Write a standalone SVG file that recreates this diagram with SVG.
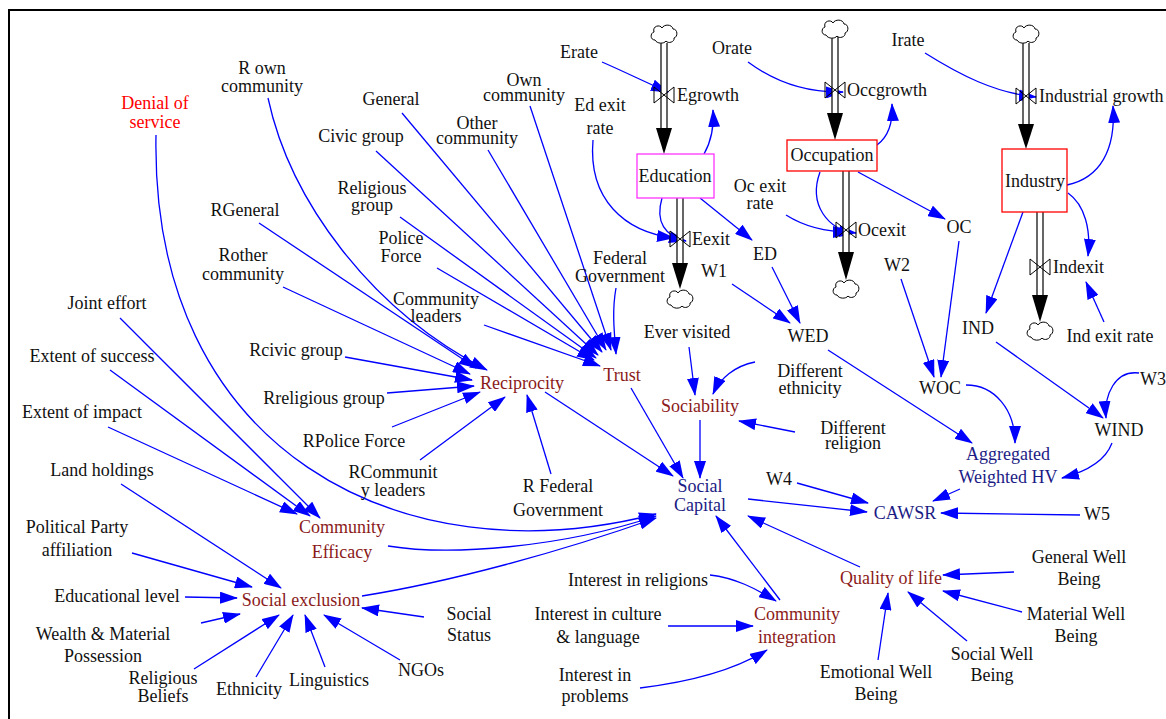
<svg xmlns="http://www.w3.org/2000/svg" width="1166" height="719" viewBox="0 0 1166 719">
<defs>
<marker id="ah" markerUnits="userSpaceOnUse" markerWidth="18" markerHeight="12" refX="17" refY="6" orient="auto"><path d="M0,0 L18,6 L0,12 Z" fill="#0000ff"/></marker>
<path id="cloud" d="M-9,6 C-14,6 -14,-1 -10,-2 C-12,-8 -4,-10 -2,-6 C0,-10 8,-10 9,-5 C14,-5 14,3 10,4 C11,8 4,10 2,7 C0,10 -7,10 -9,6 Z" fill="#fff" stroke="#000" stroke-width="1"/>
</defs>
<style>
text{font-family:"Liberation Serif","Times New Roman",serif;font-size:18px;text-anchor:middle;fill:#111}
.dr{fill:#8b1a1a}
.nv{fill:#1c1c85}
.rd{fill:#ff0000}
.st{text-anchor:start}
.c{fill:none;stroke:#0000ff;stroke-width:1.3;marker-end:url(#ah)}
.pl{stroke:#000;stroke-width:1.2}
.pf{fill:#fff;stroke:none}
.va{fill:none;stroke:#000;stroke-width:1}
.ar{fill:#000}
</style>
<rect width="1166" height="719" fill="#fff"/>
<path d="M9,719 V10 H1166" fill="none" stroke="#000" stroke-width="2"/>

<g id="connectors">
<path class="c" d="M602,62 C625,72 645,82 668,92"/>
<path class="c" d="M704,154 C712,140 714,125 713,110"/>
<path class="c" d="M593,140 C588,200 625,232 674,238"/>
<path class="c" d="M662,198 C655,222 665,236 686,241"/>
<path class="c" d="M700,198 L752,240"/>
<path class="c" d="M748,62 C775,82 805,93 843,92"/>
<path class="c" d="M877,145 C888,137 893,122 892,104"/>
<path class="c" d="M820,172 C808,205 828,230 856,233"/>
<path class="c" d="M786,215 C805,227 825,232 850,232"/>
<path class="c" d="M858,172 L945,219"/>
<path class="c" d="M925,53 C960,75 995,93 1036,97"/>
<path class="c" d="M1067,185 C1100,178 1116,150 1113,106"/>
<path class="c" d="M1068,193 C1085,205 1091,230 1088,256"/>
<path class="c" d="M1104,322 L1086,282"/>
<path class="c" d="M1023,212 L986,313"/>
<path class="c" d="M772,267 L800,323"/>
<path class="c" d="M732,284 L790,323"/>
<path class="c" d="M828,350 L972,443"/>
<path class="c" d="M901,279 L934,377"/>
<path class="c" d="M959,241 L941,377"/>
<path class="c" d="M966,385 C995,385 1015,410 1015,443"/>
<path class="c" d="M996,342 L1103,418"/>
<path class="c" d="M1139,373 C1115,370 1104,395 1106,418"/>
<path class="c" d="M1112,443 C1105,462 1085,472 1062,478"/>
<path class="c" d="M960,489 L933,501"/>
<path class="c" d="M1080,515 L941,513"/>
<path class="c" d="M797,483 L868,503"/>
<path class="c" d="M748,499 L867,512"/>
<path class="c" d="M860,567 L748,516"/>
<path class="c" d="M780,600 L716,516"/>
<path class="c" d="M700,420 L700,478"/>
<path class="c" d="M631,388 L683,478"/>
<path class="c" d="M545,392 L673,476"/>
<path class="c" d="M689,347 L695,395"/>
<path class="c" d="M755,362 C735,366 720,378 713,394"/>
<path class="c" d="M795,432 L739,421"/>
<path class="c" d="M402,113 L602,352"/>
<path class="c" d="M376,151 L598,355"/>
<path class="c" d="M400,217 L596,358"/>
<path class="c" d="M437,268 L594,360"/>
<path class="c" d="M484,325 L600,366"/>
<path class="c" d="M488,150 L606,350"/>
<path class="c" d="M530,106 L611,350"/>
<path class="c" d="M616,288 C612,310 614,330 616,354"/>
<path class="c" d="M268,98 C290,200 370,310 487,370"/>
<path class="c" d="M259,223 L476,368"/>
<path class="c" d="M283,287 L470,374"/>
<path class="c" d="M345,357 L472,380"/>
<path class="c" d="M387,393 L474,386"/>
<path class="c" d="M392,427 L480,392"/>
<path class="c" d="M420,460 L505,397"/>
<path class="c" d="M551,474 L527,395"/>
<path class="c" d="M156,135 C150,450 400,580 656,514"/>
<path class="c" d="M388,546 C450,556 560,548 656,516"/>
<path class="c" d="M362,596 C450,582 560,552 656,518"/>
<path class="c" d="M120,318 L320,518"/>
<path class="c" d="M110,370 L310,516"/>
<path class="c" d="M108,427 L297,514"/>
<path class="c" d="M121,484 L281,588"/>
<path class="c" d="M132,553 L252,587"/>
<path class="c" d="M185,597 L237,598"/>
<path class="c" d="M201,623 L240,614"/>
<path class="c" d="M194,669 L279,615"/>
<path class="c" d="M256,677 L293,615"/>
<path class="c" d="M325,667 L305,615"/>
<path class="c" d="M400,660 L324,615"/>
<path class="c" d="M424,617 L362,608"/>
<path class="c" d="M710,575 C735,578 755,588 776,601"/>
<path class="c" d="M668,626 L753,626"/>
<path class="c" d="M640,688 C690,682 735,670 767,650"/>
<path class="c" d="M1014,572 L943,575"/>
<path class="c" d="M1022,612 L943,591"/>
<path class="c" d="M967,641 L908,592"/>
<path class="c" d="M878,660 L888,593"/>
</g>

<g id="pipes">
<rect class="pf" x="661" y="43" width="6" height="85"/><line class="pl" x1="661" y1="43" x2="661" y2="128"/><line class="pl" x1="667" y1="43" x2="667" y2="128"/><polygon class="ar" points="656,128 672,128 664,154"/>
<rect class="pf" x="677" y="198" width="6" height="65"/><line class="pl" x1="677" y1="198" x2="677" y2="263"/><line class="pl" x1="683" y1="198" x2="683" y2="263"/><polygon class="ar" points="672,263 688,263 680,289"/>
<rect class="pf" x="832" y="37" width="6" height="76"/><line class="pl" x1="832" y1="37" x2="832" y2="113"/><line class="pl" x1="838" y1="37" x2="838" y2="113"/><polygon class="ar" points="827,113 843,113 835,140"/>
<rect class="pf" x="843" y="171" width="6" height="81"/><line class="pl" x1="843" y1="171" x2="843" y2="252"/><line class="pl" x1="849" y1="171" x2="849" y2="252"/><polygon class="ar" points="838,252 854,252 846,280"/>
<rect class="pf" x="1023" y="43" width="6" height="81"/><line class="pl" x1="1023" y1="43" x2="1023" y2="124"/><line class="pl" x1="1029" y1="43" x2="1029" y2="124"/><polygon class="ar" points="1018,124 1034,124 1026,149"/>
<rect class="pf" x="1037" y="212" width="6" height="83"/><line class="pl" x1="1037" y1="212" x2="1037" y2="295"/><line class="pl" x1="1043" y1="212" x2="1043" y2="295"/><polygon class="ar" points="1032,295 1048,295 1040,322"/>
<use href="#cloud" x="664" y="34"/>
<use href="#cloud" x="835" y="29"/>
<use href="#cloud" x="1026" y="34"/>
<use href="#cloud" x="680" y="299"/>
<use href="#cloud" x="846" y="289"/>
<use href="#cloud" x="1040" y="331"/>
</g>

<g id="Egrowth"><path class="va" d="M654,87 L654,103 L674,87 L674,103 Z"/><text class="st" x="677" y="101">Egrowth</text></g>
<g id="Eexit"><path class="va" d="M670,231 L670,247 L690,231 L690,247 Z"/><text class="st" x="692" y="245">Eexit</text></g>
<g id="Occgrowth"><path class="va" d="M825,82 L825,98 L845,82 L845,98 Z"/><text class="st" x="847" y="96">Occgrowth</text></g>
<g id="Ocexit"><path class="va" d="M836,222 L836,238 L856,222 L856,238 Z"/><text class="st" x="858" y="236">Ocexit</text></g>
<g id="Industrial_growth"><path class="va" d="M1016,88 L1016,104 L1036,88 L1036,104 Z"/><text class="st" x="1039" y="102">Industrial growth</text></g>
<g id="Indexit"><path class="va" d="M1030,259 L1030,275 L1050,259 L1050,275 Z"/><text class="st" x="1053" y="273">Indexit</text></g>

<g id="Education"><rect x="637" y="154" width="77" height="44" fill="#fff" stroke="#ff33ff" stroke-width="1.3"/><text x="675" y="182">Education</text></g>
<g id="Occupation"><rect x="787" y="140" width="90" height="31" fill="#fff" stroke="#ff0000" stroke-width="1.3"/><text x="832" y="161">Occupation</text></g>
<g id="Industry"><rect x="1002" y="149" width="65" height="63" fill="#fff" stroke="#ff0000" stroke-width="1.3"/><text x="1035" y="187">Industry</text></g>

<g id="R_own_community"><text x="262" y="74">R own</text><text x="262" y="92">community</text></g>
<g id="Denial_of_service"><text class="rd" x="155" y="109">Denial of</text><text class="rd" x="155" y="128">service</text></g>
<g id="General"><text x="391" y="105">General</text></g>
<g id="Civic_group"><text x="361" y="142">Civic group</text></g>
<g id="Own_community"><text x="524" y="86">Own</text><text x="524" y="101">community</text></g>
<g id="Other_community"><text x="477" y="129">Other</text><text x="477" y="144">community</text></g>
<g id="Religious_group"><text x="372" y="194">Religious</text><text x="372" y="211">group</text></g>
<g id="RGeneral"><text x="245" y="216">RGeneral</text></g>
<g id="Police_Force"><text x="401" y="244">Police</text><text x="401" y="262">Force</text></g>
<g id="Rother_community"><text x="243" y="261">Rother</text><text x="243" y="280">community</text></g>
<g id="Joint_effort"><text x="107" y="309">Joint effort</text></g>
<g id="Extent_of_success"><text x="92" y="362">Extent of success</text></g>
<g id="Extent_of_impact"><text x="82" y="418">Extent of impact</text></g>
<g id="Land_holdings"><text x="102" y="476">Land holdings</text></g>
<g id="Political_Party"><text x="77" y="533">Political Party</text><text x="77" y="556">affiliation</text></g>
<g id="Educational_level"><text x="117" y="602">Educational level</text></g>
<g id="Wealth"><text x="103" y="640">Wealth &amp; Material</text><text x="103" y="662">Possession</text></g>
<g id="Religious_Beliefs"><text x="163" y="684">Religious</text><text x="163" y="702">Beliefs</text></g>
<g id="Ethnicity"><text x="249" y="695">Ethnicity</text></g>
<g id="Linguistics"><text x="329" y="686">Linguistics</text></g>
<g id="NGOs"><text x="421" y="676">NGOs</text></g>
<g id="Social_Status"><text x="469" y="620">Social</text><text x="469" y="641">Status</text></g>
<g id="Rcivic_group"><text x="296" y="356">Rcivic group</text></g>
<g id="Rreligious_group"><text x="324" y="404">Rreligious group</text></g>
<g id="RPolice_Force"><text x="354" y="447">RPolice Force</text></g>
<g id="RCommunity_leaders"><text x="393" y="478">RCommunit</text><text x="393" y="496">y leaders</text></g>
<g id="Community_leaders"><text x="436" y="305">Community</text><text x="436" y="322">leaders</text></g>
<g id="Federal_Government"><text x="620" y="264">Federal</text><text x="620" y="282">Government</text></g>
<g id="R_Federal_Government"><text x="558" y="492">R Federal</text><text x="558" y="516">Government</text></g>
<g id="Ever_visited"><text x="687" y="338">Ever visited</text></g>
<g id="Different_ethnicity"><text x="810" y="377">Different</text><text x="810" y="394">ethnicity</text></g>
<g id="Different_religion"><text x="853" y="434">Different</text><text x="853" y="449">religion</text></g>
<g id="Ed_exit_rate"><text x="600" y="111">Ed exit</text><text x="600" y="134">rate</text></g>
<g id="Erate"><text x="579" y="58">Erate</text></g>
<g id="Orate"><text x="732" y="54">Orate</text></g>
<g id="Irate"><text x="908" y="46">Irate</text></g>
<g id="Oc_exit_rate"><text x="760" y="192">Oc exit</text><text x="760" y="209">rate</text></g>
<g id="OC"><text x="959" y="233">OC</text></g>
<g id="Ind_exit_rate"><text x="1110" y="342">Ind exit rate</text></g>
<g id="ED"><text x="765" y="260">ED</text></g>
<g id="W1"><text x="714" y="277">W1</text></g>
<g id="WED"><text x="808" y="342">WED</text></g>
<g id="W2"><text x="897" y="271">W2</text></g>
<g id="IND"><text x="978" y="334">IND</text></g>
<g id="WOC"><text x="940" y="394">WOC</text></g>
<g id="WIND"><text x="1119" y="436">WIND</text></g>
<g id="W3"><text class="st" x="1140" y="385">W3</text></g>
<g id="W4"><text x="779" y="485">W4</text></g>
<g id="W5"><text x="1097" y="520">W5</text></g>
<g id="General_Well_Being"><text x="1079" y="563">General Well</text><text x="1079" y="585">Being</text></g>
<g id="Material_Well_Being"><text x="1076" y="620">Material Well</text><text x="1076" y="642">Being</text></g>
<g id="Social_Well_Being"><text x="992" y="660">Social Well</text><text x="992" y="681">Being</text></g>
<g id="Emotional_Well_Being"><text x="876" y="678">Emotional Well</text><text x="876" y="700">Being</text></g>
<g id="Interest_in_religions"><text x="638" y="586">Interest in religions</text></g>
<g id="Interest_in_culture"><text x="598" y="620">Interest in culture</text><text x="598" y="643">&amp; language</text></g>
<g id="Interest_in_problems"><text x="595" y="681">Interest in</text><text x="595" y="702">problems</text></g>

<g id="Social_exclusion"><text class="dr" x="301" y="606">Social exclusion</text></g>
<g id="Community_Efficacy"><text class="dr" x="342" y="533">Community</text><text class="dr" x="342" y="558">Efficacy</text></g>
<g id="Reciprocity"><text class="dr" x="522" y="389">Reciprocity</text></g>
<g id="Trust"><text class="dr" x="622" y="381">Trust</text></g>
<g id="Sociability"><text class="dr" x="700" y="412">Sociability</text></g>
<g id="Community_integration"><text class="dr" x="797" y="620">Community</text><text class="dr" x="797" y="643">integration</text></g>
<g id="Quality_of_life"><text class="dr" x="891" y="584">Quality of life</text></g>
<g id="Social_Capital"><text class="nv" x="700" y="492">Social</text><text class="nv" x="700" y="511">Capital</text></g>
<g id="Aggregated_Weighted_HV"><text class="nv" x="1008" y="460">Aggregated</text><text class="nv" x="1008" y="483">Weighted HV</text></g>
<g id="CAWSR"><text class="nv" x="905" y="519">CAWSR</text></g>
</svg>
